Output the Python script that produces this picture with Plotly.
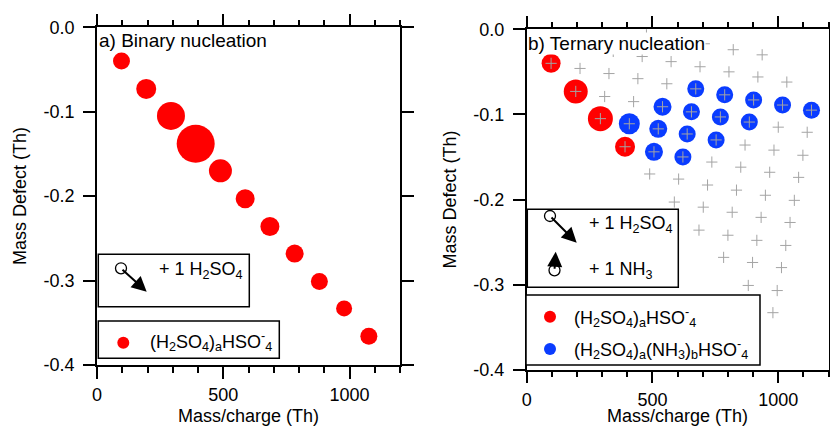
import plotly.graph_objects as go

W, H = 830, 426

# ---------------- data ----------------
# a) binary: (H2SO4)a HSO4-
bin_mz = [96.96, 194.93, 292.89, 390.86, 488.83, 586.80, 684.76, 782.73, 880.70, 978.67, 1076.63]
bin_md = [-0.040, -0.073, -0.105, -0.138, -0.170, -0.203, -0.236, -0.268, -0.301, -0.333, -0.366]
bin_signal = [17, 20, 28, 38, 23, 19, 19, 18, 17, 16, 17]

# b) ternary: red (H2SO4)a HSO4-
ter_red_mz = [96.96, 194.93, 292.89, 390.86]
ter_red_md = [-0.040, -0.073, -0.105, -0.138]
ter_red_signal = [19, 24, 25, 20]

# b) ternary: blue (H2SO4)a(NH3)b HSO4-
ter_blue_mz = [407.89, 505.86, 522.88, 539.91, 620.85, 637.88, 654.90, 671.93,
               752.87, 769.90, 786.92, 884.89, 901.92, 1016.91, 1131.91]
ter_blue_md = [-0.111, -0.144, -0.117, -0.091, -0.150, -0.123, -0.097, -0.070,
               -0.130, -0.103, -0.077, -0.109, -0.083, -0.089, -0.095]
ter_blue_signal = [21, 18, 18, 18, 17, 17, 17, 17, 17, 17, 17, 17, 17, 17, 17]

# b) candidate compositions (grey crosses)
cand_mz = [96.96, 113.99,
           194.93, 211.95, 228.98,
           292.89, 309.92, 326.95, 343.97,
           390.86, 407.89, 424.91, 441.94, 458.97, 475.99,
           488.83, 505.86, 522.88, 539.91, 556.94, 573.96, 590.99,
           586.80, 603.82, 620.85, 637.88, 654.90, 671.93, 688.96, 705.98,
           684.76, 701.79, 718.82, 735.84, 752.87, 769.90, 786.92, 803.95, 820.98,
           782.73, 799.76, 816.78, 833.81, 850.84, 867.86, 884.89, 901.92, 918.94, 935.97,
           880.70, 897.72, 914.75, 931.78, 948.80, 965.83, 982.86, 999.88, 1016.91, 1033.94,
           978.67, 995.69, 1012.72, 1029.75, 1046.77, 1063.80, 1080.83, 1097.85, 1114.88, 1131.91]
cand_md = [-0.040, -0.013,
           -0.073, -0.046, -0.020,
           -0.105, -0.079, -0.052, -0.026,
           -0.138, -0.111, -0.085, -0.058, -0.032, -0.005,
           -0.170, -0.144, -0.117, -0.091, -0.064, -0.038, -0.011,
           -0.203, -0.176, -0.150, -0.123, -0.097, -0.070, -0.044, -0.017,
           -0.236, -0.209, -0.183, -0.156, -0.130, -0.103, -0.077, -0.050, -0.024,
           -0.268, -0.242, -0.215, -0.189, -0.162, -0.136, -0.109, -0.083, -0.056, -0.030,
           -0.301, -0.274, -0.248, -0.221, -0.195, -0.168, -0.142, -0.115, -0.089, -0.062,
           -0.333, -0.307, -0.280, -0.254, -0.227, -0.201, -0.174, -0.148, -0.121, -0.095]

y_tickvals = [0.0, -0.1, -0.2, -0.3, -0.4]
y_ticktext = ["0.0", "-0.1", "-0.2", "-0.3", "-0.4"]
x_range = [0, 1200]
y_range = [-0.4, 0.0]

RED = "#ff0000"
BLUE = "#0a3cff"
GREY = "#a4a4a4"
FONT = "Liberation Sans, Arial, sans-serif"


def px(x):
    return x / W


def py(y):
    return 1 - y / H


fig = go.Figure()

fig.add_trace(go.Scatter(x=bin_mz, y=bin_md, mode="markers",
                         marker=dict(color=RED, size=bin_signal, opacity=1, line=dict(width=0)),
                         xaxis="x", yaxis="y", showlegend=False))

fig.add_trace(go.Scatter(x=ter_red_mz, y=ter_red_md, mode="markers",
                         marker=dict(color=RED, size=ter_red_signal, opacity=1, line=dict(width=0)),
                         xaxis="x2", yaxis="y2", showlegend=False))
fig.add_trace(go.Scatter(x=ter_blue_mz, y=ter_blue_md, mode="markers",
                         marker=dict(color=BLUE, size=ter_blue_signal, opacity=1, line=dict(width=0)),
                         xaxis="x2", yaxis="y2", showlegend=False))
fig.add_trace(go.Scatter(x=cand_mz, y=cand_md, mode="markers",
                         marker=dict(symbol="cross-thin", size=8, opacity=1,
                                     line=dict(color=GREY, width=1)),
                         xaxis="x2", yaxis="y2", showlegend=False))

axis_common = dict(showline=True, linecolor="black", linewidth=1.5, mirror="ticks",
                   ticks="outside", tickcolor="black", tickwidth=1.5, ticklen=12,
                   showgrid=False, zeroline=False, automargin=False,
                   tickfont=dict(family=FONT, size=18, color="black"))

xaxis_common = dict(axis_common, range=x_range, tickmode="linear", tick0=0, dtick=500,
                    minor=dict(tickmode="linear", tick0=0, dtick=100, ticks="outside",
                               ticklen=6, tickwidth=1.5, tickcolor="black"),
                    ticklabelstandoff=1)
yaxis_common = dict(axis_common, range=y_range, tickmode="array",
                    tickvals=y_tickvals, ticktext=y_ticktext, ticklabelstandoff=5)

fig.update_layout(
    width=W, height=H,
    margin=dict(l=0, r=0, t=0, b=0, autoexpand=False),
    paper_bgcolor="white", plot_bgcolor="white",
    font=dict(family=FONT, color="black"),
    xaxis=dict(xaxis_common, domain=[px(97), px(400)], anchor="y"),
    yaxis=dict(yaxis_common, domain=[py(365), py(27.3)], anchor="x"),
    xaxis2=dict(xaxis_common, domain=[px(526.7), px(828.6)], anchor="y2"),
    yaxis2=dict(yaxis_common, domain=[py(369.7), py(29.3)], anchor="x2"),
)

shapes = []
annotations = []


def text(x, y, s, size=18, xanchor="left", angle=0, bg=None):
    d = dict(x=px(x), y=py(y), xref="paper", yref="paper", text=s, showarrow=False,
             xanchor=xanchor, yanchor="middle", textangle=angle,
             font=dict(family=FONT, size=size, color="black"), borderpad=0)
    if bg:
        d["bgcolor"] = bg
    annotations.append(d)


def box(x0, y0, x1, y1):
    shapes.append(dict(type="rect", xref="paper", yref="paper", x0=px(x0), x1=px(x1),
                       y0=py(y1), y1=py(y0), line=dict(color="black", width=1.5),
                       fillcolor="white", layer="above"))


def circle(cx, cy, r, fill=None):
    d = dict(type="circle", xref="paper", yref="paper", x0=px(cx - r), x1=px(cx + r),
             y0=py(cy + r), y1=py(cy - r), layer="above")
    if fill:
        d["fillcolor"] = fill
        d["line"] = dict(width=0)
    else:
        d["line"] = dict(color="black", width=1.3)
    shapes.append(d)


def arrow(x0, y0, x1, y1):
    annotations.append(dict(x=px(x1), y=py(y1), xref="paper", yref="paper",
                            ax=x0 - x1, ay=y0 - y1, text="", showarrow=True,
                            arrowhead=2, arrowsize=1.5, arrowwidth=2, arrowcolor="black",
                            standoff=0, startstandoff=0))


# panel labels
text(97.7, 41, "a) Binary nucleation", size=19, bg="white")
text(526.7, 43, "b) Ternary nucleation", size=19, bg="white")

# axis titles
text(248.5, 415.5, "Mass/charge (Th)", xanchor="center")
text(677.6, 415.5, "Mass/charge (Th)", xanchor="center")
text(20, 196, "Mass Defect (Th)", xanchor="center", angle=-90)
text(450, 199.5, "Mass Defect (Th)", xanchor="center", angle=-90)

LEG = 18
# left legend boxes
box(98.3, 254.3, 249.3, 306.7)
circle(121, 268.3, 5.5)
arrow(121, 268.3, 146.7, 291.7)
text(158.3, 270, "+ 1 H<sub>2</sub>SO<sub>4</sub>", size=LEG)

box(98.3, 321, 279.3, 358.3)
circle(123.3, 342.7, 6, fill=RED)
text(149.3, 341, "(H<sub>2</sub>SO<sub>4</sub>)<sub>a</sub>HSO<sup>-</sup><sub>4</sub>", size=LEG)

# right legend boxes
box(527.3, 209.3, 678.3, 287.3)
circle(550, 216, 5.5)
arrow(550, 216, 576.7, 242.7)
text(588.3, 225, "+ 1 H<sub>2</sub>SO<sub>4</sub>", size=LEG)
circle(554.5, 270.3, 5.5)
arrow(554.5, 270.3, 555.7, 251.7)
text(588.3, 270, "+ 1 NH<sub>3</sub>", size=LEG)

box(526, 295, 760, 365)
circle(550, 316.7, 6, fill=RED)
circle(550, 349, 6, fill=BLUE)
text(573.3, 317, "(H<sub>2</sub>SO<sub>4</sub>)<sub>a</sub>HSO<sup>-</sup><sub>4</sub>", size=LEG)
text(573.3, 349, "(H<sub>2</sub>SO<sub>4</sub>)<sub>a</sub>(NH<sub>3</sub>)<sub>b</sub>HSO<sup>-</sup><sub>4</sub>", size=LEG)

fig.update_layout(shapes=shapes, annotations=annotations)

fig.write_html("out.html", config={"displayModeBar": False},
               post_script="document.body.style.margin='0px';document.body.style.overflow='hidden';")
